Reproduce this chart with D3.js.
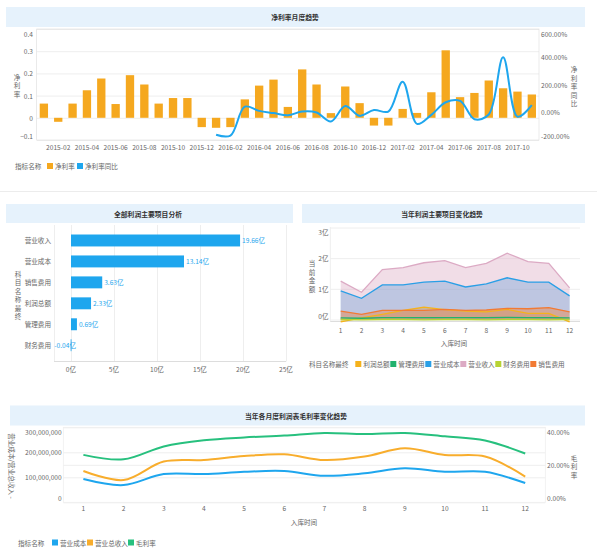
<!DOCTYPE html>
<html>
<head>
<meta charset="utf-8">
<script src="https://cdn.jsdelivr.net/npm/d3@7"></script>
<style>
body { margin: 0; background: #fff; }
svg text { font-family: "Noto Sans CJK SC", "Noto Sans", sans-serif; font-size: 6.6px; fill: #666; }
</style>
</head>
<body>
<svg id="chart" width="597" height="559"></svg>
<script>
// ---- 净利率月度趋势 ----
var months = [
    "2015-01", "2015-02", "2015-03", "2015-04", "2015-05", "2015-06",
    "2015-07", "2015-08", "2015-09", "2015-10", "2015-11", "2015-12",
    "2016-01", "2016-02", "2016-03", "2016-04", "2016-05", "2016-06",
    "2016-07", "2016-08", "2016-09", "2016-10", "2016-11", "2016-12",
    "2017-01", "2017-02", "2017-03", "2017-04", "2017-05", "2017-06",
    "2017-07", "2017-08", "2017-09", "2017-10", "2017-11"
];
var netMargin = [
    0.064, -0.018, 0.064, 0.124, 0.177, 0.062, 0.192, 0.150, 0.064, 0.089, 0.089, -0.042,
    -0.045, -0.042, 0.083, 0.145, 0.172, 0.049, 0.218, 0.150, 0.021, 0.141, 0.066, -0.035,
    -0.035, 0.040, 0.022, 0.115, 0.304, 0.093, 0.112, 0.168, 0.133, 0.118, 0.105
];
var netMarginYoY = [
    null, null, null, null, null, null, null, null, null, null, null, null,
    -162, -168, 40, 10, -6, -22, 5, -2, -66, 45, -26, 16,
    5, 220, -84, -19, 72, 82, -50, -16, 396, -32, 52
];
var leftTicks = [-0.1, 0, 0.1, 0.2, 0.3, 0.4];
var rightTicks = [-200, 0, 200, 400, 600];

// ---- 全部利润主要项目分析 ----
var items = ["营业收入", "营业成本", "销售费用", "利润总额", "管理费用", "财务费用"];
var itemTotals = [19.66, 13.14, 3.63, 2.33, 0.69, -0.04];
var totalTicks = [0, 5, 10, 15, 20, 25];

// ---- 当年利润主要项目变化趋势 (亿) ----
var monthNums = [1, 2, 3, 4, 5, 6, 7, 8, 9, 10, 11, 12];
var profitTotal = [-0.08, 0.05, 0.17, 0.30, 0.40, 0.32, 0.27, 0.25, 0.33, 0.20, 0.20, -0.08];
var adminCost = [0.05, 0.04, 0.06, 0.06, 0.06, 0.06, 0.06, 0.06, 0.07, 0.06, 0.06, 0.05];
var operCost = [0.93, 0.69, 1.13, 1.13, 1.22, 1.25, 1.06, 1.16, 1.36, 1.22, 1.22, 0.77];
var operRevenue = [1.25, 0.89, 1.63, 1.69, 1.85, 1.92, 1.69, 1.83, 2.16, 1.89, 1.83, 1.03];
var financeCost = [0, -0.01, 0, 0, -0.01, 0, 0, -0.01, 0, 0, -0.01, 0];
var salesCost = [0.27, 0.17, 0.30, 0.30, 0.30, 0.33, 0.30, 0.31, 0.36, 0.35, 0.39, 0.25];
var amountTicks = [0, 1, 2, 3];

// ---- 当年各月度利润表毛利率变化趋势 ----
var grossMargin = [25.3, 22.9, 29.8, 33.1, 34.6, 35.6, 37.0, 36.4, 37.0, 35.2, 33.0, 26.0];
var marginTicks = [0, 20, 40];

var orange = "#f5a81f";
var blue = "#1ea6ee";
var titleBg = "#e6f2fc";
var gridColor = "#eeeeee";
var axisColor = "#dddddd";

var svg = d3.select("#chart");

function titleBar(x, y, w, h, label, cx) {
    svg.append("rect")
        .attr("x", x).attr("y", y)
        .attr("width", w).attr("height", h)
        .attr("fill", titleBg);
    svg.append("text")
        .attr("x", cx).attr("y", y + h / 2)
        .attr("text-anchor", "middle")
        .attr("dominant-baseline", "central")
        .style("font-weight", "bold")
        .style("font-size", "6.8px")
        .style("fill", "#333")
        .text(label);
}

// vertical title, one character under the other
function stackedText(label, x, cy, step) {
    var chars = Array.from(label);
    var y0 = cy - (chars.length - 1) * step / 2;
    svg.append("g").selectAll("text")
        .data(chars)
        .join("text")
        .attr("x", x)
        .attr("y", (d, i) => y0 + i * step)
        .attr("text-anchor", "middle")
        .attr("dominant-baseline", "central")
        .text(d => d);
}

function legend(x, y, title, entries) {
    svg.append("text")
        .attr("x", x).attr("y", y)
        .attr("dominant-baseline", "central")
        .text(title);
    for (let e of entries) {
        svg.append("rect")
            .attr("x", e[0]).attr("y", y - 3)
            .attr("width", 6).attr("height", 6)
            .attr("fill", e[2]);
        svg.append("text")
            .attr("x", e[0] + 8).attr("y", y)
            .attr("dominant-baseline", "central")
            .text(e[1]);
    }
}

// end labels of a value axis are pushed inside the plot, like the original
function yLabels(scale, ticks, x, anchor, fmt) {
    var n = ticks.length;
    svg.append("g").selectAll("text")
        .data(ticks)
        .join("text")
        .attr("x", x)
        .attr("y", d => scale(d))
        .attr("text-anchor", anchor)
        .attr("dominant-baseline", (d, i) => i === 0 ? "auto" : (i === n - 1 ? "hanging" : "central"))
        .attr("dy", (d, i) => i === 0 ? -1 : (i === n - 1 ? 1.5 : 0))
        .text(fmt);
}

function hLines(scale, ticks, x1, x2) {
    svg.append("g").selectAll("line")
        .data(ticks)
        .join("line")
        .attr("x1", x1).attr("x2", x2)
        .attr("y1", d => scale(d) + 0.5).attr("y2", d => scale(d) + 0.5)
        .attr("stroke", gridColor);
}

function netMarginChart() {
    titleBar(6, 7, 579, 20, "净利率月度趋势", 295);

    var x = d3.scaleBand().domain(months).range([36.7, 539])
        .paddingInner(0.42).paddingOuter(0.21);
    var y = d3.scaleLinear().domain([-0.1, 0.4]).range([140, 29]);
    var y2 = d3.scaleLinear().domain([-200, 600]).range([140, 29]);

    hLines(y, leftTicks, 36.7, 539);
    svg.append("rect")
        .attr("x", 36.7).attr("y", 29)
        .attr("width", 539 - 36.7).attr("height", 111)
        .attr("fill", "none").attr("stroke", axisColor).attr("stroke-width", 0.6);

    svg.append("g").selectAll("rect")
        .data(netMargin)
        .join("rect")
        .attr("x", (d, i) => x(months[i]))
        .attr("y", d => y(Math.max(0, d)))
        .attr("width", x.bandwidth())
        .attr("height", d => Math.abs(y(d) - y(0)))
        .attr("fill", orange);

    var line = d3.line()
        .defined(d => d != null)
        .x((d, i) => x(months[i]) + x.bandwidth() / 2)
        .y(d => y2(d))
        .curve(d3.curveCatmullRom.alpha(0.5));
    svg.append("path")
        .datum(netMarginYoY)
        .attr("d", line)
        .attr("fill", "none")
        .attr("stroke", blue)
        .attr("stroke-width", 2);

    yLabels(y, leftTicks, 33, "end", d => d3.format(".1~f")(d));
    yLabels(y2, rightTicks, 541, "start", d => d.toFixed(2) + "%");

    svg.append("g").selectAll("text")
        .data(months.filter((m, i) => i % 2 === 1))
        .join("text")
        .attr("x", d => x(d) + x.bandwidth() / 2)
        .attr("y", 146.5)
        .attr("text-anchor", "middle")
        .attr("dominant-baseline", "central")
        .text(d => d);

    stackedText("净利率", 17, 85, 8.5);
    stackedText("净利率同比", 574, 86, 8.5);

    legend(15, 166, "指标名称", [[47, "净利率", orange], [77, "净利率同比", blue]]);

    svg.append("line")
        .attr("x1", 0).attr("x2", 597)
        .attr("y1", 191.5).attr("y2", 191.5)
        .attr("stroke", "#ececec");
}

function totalsChart() {
    titleBar(6, 204, 287, 19, "全部利润主要项目分析", 148);

    var x = d3.scaleLinear().domain([0, 25]).range([71, 286]);
    var y = d3.scaleBand().domain(items).range([225.5, 360.2]).padding(0.43);

    svg.append("g").selectAll("line")
        .data(totalTicks)
        .join("line")
        .attr("x1", d => x(d) + 0.5).attr("x2", d => x(d) + 0.5)
        .attr("y1", 225).attr("y2", 361.5)
        .attr("stroke", gridColor);
    svg.append("line")
        .attr("x1", 54.5).attr("x2", 54.5).attr("y1", 225).attr("y2", 361.5)
        .attr("stroke", gridColor);
    svg.append("line")
        .attr("x1", 54).attr("x2", 286).attr("y1", 361.5).attr("y2", 361.5)
        .attr("stroke", axisColor);

    svg.append("g").selectAll("rect")
        .data(itemTotals)
        .join("rect")
        .attr("x", d => x(Math.min(0, d)))
        .attr("y", (d, i) => y(items[i]))
        .attr("width", d => Math.max(0.8, Math.abs(x(d) - x(0))))
        .attr("height", y.bandwidth())
        .attr("fill", blue);

    svg.append("g").selectAll("text")
        .data(itemTotals)
        .join("text")
        .attr("x", d => d >= 0 ? x(d) + 2 : x(0) + 5)
        .attr("y", (d, i) => y(items[i]) + y.bandwidth() / 2)
        .attr("text-anchor", d => d >= 0 ? "start" : "end")
        .attr("dominant-baseline", "central")
        .style("fill", blue)
        .text(d => d.toFixed(2) + "亿");

    svg.append("g").selectAll("text")
        .data(items)
        .join("text")
        .attr("x", 51)
        .attr("y", d => y(d) + y.bandwidth() / 2)
        .attr("text-anchor", "end")
        .attr("dominant-baseline", "central")
        .text(d => d);

    svg.append("g").selectAll("text")
        .data(totalTicks)
        .join("text")
        .attr("x", d => x(d))
        .attr("y", 368.5)
        .attr("text-anchor", "middle")
        .attr("dominant-baseline", "central")
        .text(d => d + "亿");

    stackedText("科目名称最终", 18, 295, 8.5);
}

function trendChart() {
    titleBar(302, 204, 283, 19, "当年利润主要项目变化趋势", 442);

    var x = d3.scalePoint().domain(monthNums).range([330.3, 580]).padding(0.5);
    var y = d3.scaleLinear().domain([0, 3]).range([319.5, 227.5]);

    hLines(y, amountTicks, 330.3, 580);
    svg.append("line")
        .attr("x1", 330.3).attr("x2", 330.3).attr("y1", 227).attr("y2", 321.5)
        .attr("stroke", gridColor);
    svg.append("line")
        .attr("x1", 330.3).attr("x2", 580).attr("y1", 321.5).attr("y2", 321.5)
        .attr("stroke", axisColor);

    var series = [
        ["利润总额", profitTotal, "#f5b21c"],
        ["管理费用", adminCost, "#22b26e"],
        ["营业成本", operCost, "#2a9fe6"],
        ["营业收入", operRevenue, "#dcaac4"],
        ["财务费用", financeCost, "#b7d335"],
        ["销售费用", salesCost, "#f27a33"]
    ];

    var area = d3.area()
        .x((d, i) => x(monthNums[i]))
        .y0(y(0))
        .y1(d => y(d));
    var line = d3.line()
        .x((d, i) => x(monthNums[i]))
        .y(d => y(d));

    for (let s of series) {
        svg.append("path")
            .datum(s[1])
            .attr("d", area)
            .attr("fill", s[2])
            .attr("fill-opacity", 0.4);
    }
    for (let s of series) {
        svg.append("path")
            .datum(s[1])
            .attr("d", line)
            .attr("fill", "none")
            .attr("stroke", s[2])
            .attr("stroke-width", 1.3);
    }

    yLabels(y, amountTicks, 328.5, "end", d => d + "亿");

    svg.append("g").selectAll("text")
        .data(monthNums)
        .join("text")
        .attr("x", d => x(d))
        .attr("y", 329.5)
        .attr("text-anchor", "middle")
        .attr("dominant-baseline", "central")
        .text(d => d);
    svg.append("text")
        .attr("x", 454).attr("y", 343)
        .attr("text-anchor", "middle")
        .attr("dominant-baseline", "central")
        .text("入库时间");

    stackedText("当前金额", 312, 276, 8.5);

    legend(309, 364, "科目名称最终", series.map((s, i) => [355.3 + i * 35, s[0], s[2]]));
}

function grossChart() {
    titleBar(10, 405.5, 575, 20, "当年各月度利润表毛利率变化趋势", 296);

    var x = d3.scalePoint().domain(monthNums).range([63.3, 545.3]).padding(0.5);
    var y = d3.scaleLinear().domain([0, 3]).range([502.3, 427.3]);
    var y2 = d3.scaleLinear().domain([0, 40]).range([502.3, 427.3]);

    hLines(y, amountTicks, 63.3, 545.3);
    hLines(y2, [20], 63.3, 545.3);
    svg.append("rect")
        .attr("x", 63.3).attr("y", 427.3)
        .attr("width", 545.3 - 63.3).attr("height", 75)
        .attr("fill", "none").attr("stroke", gridColor).attr("stroke-width", 0.8);

    var curve = d3.curveCatmullRom.alpha(0.5);
    var lines = [
        [operCost, y, blue],
        [operRevenue, y, "#f8ad2c"],
        [grossMargin, y2, "#27c07e"]
    ];
    for (let l of lines) {
        svg.append("path")
            .datum(l[0])
            .attr("d", d3.line()
                .x((d, i) => x(monthNums[i]))
                .y(d => l[1](d))
                .curve(curve))
            .attr("fill", "none")
            .attr("stroke", l[2])
            .attr("stroke-width", 2);
    }

    // amounts are kept in 亿, the axis shows them in 元
    yLabels(y, amountTicks, 61.7, "end", d => d3.format(",")(d * 100000000));
    yLabels(y2, marginTicks, 547, "start", d => d.toFixed(2) + "%");

    svg.append("g").selectAll("text")
        .data(monthNums)
        .join("text")
        .attr("x", d => x(d))
        .attr("y", 508)
        .attr("text-anchor", "middle")
        .attr("dominant-baseline", "central")
        .text(d => d);
    svg.append("text")
        .attr("x", 304).attr("y", 522)
        .attr("text-anchor", "middle")
        .attr("dominant-baseline", "central")
        .text("入库时间");

    stackedText("毛利率", 574, 466, 8.5);
    svg.append("text")
        .attr("transform", "translate(12,466) rotate(90)")
        .attr("text-anchor", "middle")
        .attr("dominant-baseline", "central")
        .text("营业成本/营业总收入 -");

    legend(18, 542.5, "指标名称", [
        [52, "营业成本", blue],
        [87, "营业总收入", "#f8ad2c"],
        [128, "毛利率", "#27c07e"]
    ]);
}

netMarginChart();
totalsChart();
trendChart();
grossChart();
</script>
</body>
</html>
